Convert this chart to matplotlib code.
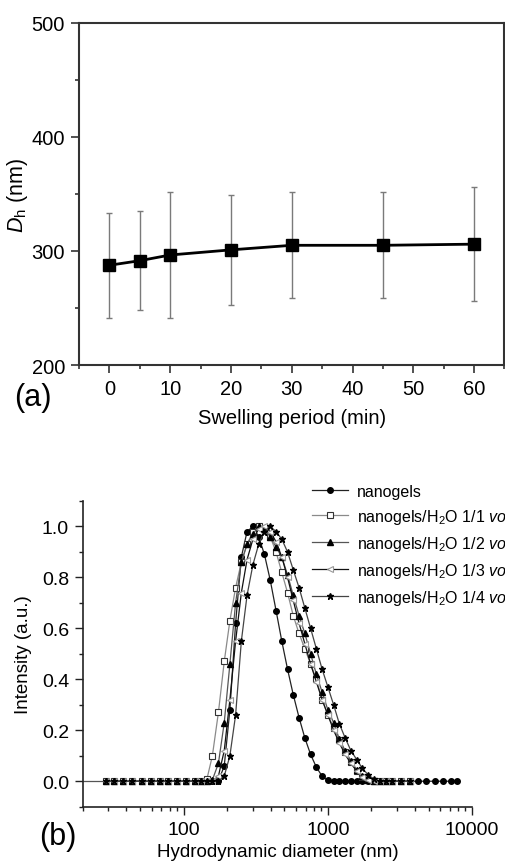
import numpy as np
import matplotlib
matplotlib.use('Agg')
import matplotlib.pyplot as plt
from matplotlib.ticker import MultipleLocator, LogLocator, NullFormatter, FixedLocator

plt.rcParams['font.family'] = ['Liberation Sans', 'DejaVu Sans']
plt.rcParams['mathtext.fontset'] = 'custom'
plt.rcParams['mathtext.rm'] = 'Liberation Sans'
plt.rcParams['mathtext.it'] = 'Liberation Sans:italic'

# (a) swelling kinetics
swell_t = [0, 5, 10, 20, 30, 45, 60]
swell_dh = [287.5, 291.5, 296.5, 301, 305, 305, 306]
err_hi = [333, 335, 352, 349, 352, 352, 356]
err_lo = [241, 248.5, 241, 252.5, 259, 258.5, 256]

# (b) DLS size distributions
x_low = [29, 33, 38, 44, 51, 59, 68, 78, 90, 104, 120]
x_main = [132, 145, 158, 174, 191, 209, 229, 251, 275, 302, 331, 363, 398, 437,
          479, 525, 575, 631, 692, 759, 832, 912, 1000, 1096, 1202, 1318, 1445,
          1585, 1738, 1905, 2089, 2291, 2512]
x_high = [2800, 3200, 3700]
x_high_long = [2800, 3200, 3700, 4200, 4800, 5500, 6300, 7200, 7900]

y_gel = [0, 0, 0, 0, 0.06, 0.28, 0.62, 0.88, 0.98, 1.0, 0.96, 0.89, 0.79, 0.67,
         0.55, 0.44, 0.34, 0.25, 0.17, 0.105, 0.055, 0.02, 0.003, 0, 0, 0, 0,
         0, 0, 0, 0, 0, 0]
y_11 = [0, 0.01, 0.10, 0.27, 0.47, 0.63, 0.76, 0.86, 0.93, 0.98, 1.0, 0.99, 0.96,
        0.90, 0.82, 0.74, 0.65, 0.58, 0.52, 0.46, 0.40, 0.32, 0.26, 0.21, 0.16,
        0.115, 0.075, 0.04, 0.015, 0.003, 0, 0, 0]
y_12 = [0, 0, 0.005, 0.07, 0.23, 0.46, 0.70, 0.86, 0.93, 0.97, 1.0, 0.99, 0.96,
        0.92, 0.88, 0.81, 0.73, 0.65, 0.58, 0.50, 0.42, 0.35, 0.28, 0.23, 0.165,
        0.12, 0.08, 0.045, 0.02, 0.005, 0, 0, 0]
y_13 = [0, 0, 0, 0.02, 0.12, 0.32, 0.55, 0.74, 0.87, 0.95, 0.99, 1.0, 0.98,
        0.94, 0.88, 0.80, 0.71, 0.62, 0.54, 0.46, 0.39, 0.32, 0.26, 0.20, 0.15,
        0.105, 0.07, 0.04, 0.018, 0.005, 0, 0, 0]
y_14 = [0, 0, 0, 0, 0.02, 0.10, 0.26, 0.55, 0.73, 0.85, 0.93, 0.98, 1.0, 0.98,
        0.95, 0.90, 0.83, 0.76, 0.68, 0.60, 0.52, 0.44, 0.37, 0.30, 0.225, 0.17,
        0.12, 0.085, 0.05, 0.025, 0.008, 0, 0]

labels = ['nanogels',
          r'nanogels/H$_2$O 1/1 $\it{vol.}$',
          r'nanogels/H$_2$O 1/2 $\it{vol.}$',
          r'nanogels/H$_2$O 1/3 $\it{vol.}$',
          r'nanogels/H$_2$O 1/4 $\it{vol.}$']

fig = plt.figure(figsize=(5.06, 8.62), dpi=100)

# ---- panel (a)
ax1 = fig.add_axes([79/506, 1-366/862, 425.5/506, 342/862])
yerr = [np.array(swell_dh) - np.array(err_lo), np.array(err_hi) - np.array(swell_dh)]
ax1.errorbar(swell_t, swell_dh, yerr=yerr, fmt='none', ecolor='#7a7a7a',
             elinewidth=1.0, capsize=2, capthick=1.0, zorder=1)
ax1.plot(swell_t, swell_dh, color='black', lw=2, marker='s', ms=8, zorder=3)
ax1.set_xlim(-5, 65)
ax1.set_ylim(200, 500)
ax1.xaxis.set_major_locator(MultipleLocator(10))
ax1.xaxis.set_minor_locator(MultipleLocator(5))
ax1.yaxis.set_major_locator(MultipleLocator(100))
ax1.yaxis.set_minor_locator(MultipleLocator(50))
ax1.tick_params(which='both', direction='out', top=False, right=False,
                labelsize=14.5, color='#333333', width=1.2)
ax1.tick_params(which='major', length=6, pad=4)
ax1.tick_params(which='minor', length=3)
for s in ax1.spines.values():
    s.set_linewidth(1.5)
    s.set_color('#333333')
ax1.set_xlabel('Swelling period (min)', fontsize=14.5, labelpad=7)
ax1.set_ylabel(r'$D_\mathrm{h}$ (nm)', fontsize=15.5, labelpad=1)
fig.text(14/506, 1-398/862, '(a)', fontsize=22, va='center', ha='left')

# ---- panel (b)
ax2 = fig.add_axes([83/506, 1-807.7/862, 389/506, 305.7/862])
ax2.hlines(0, 20, x_low[0], color='#555555', lw=0.9, zorder=0)
ax2.plot(x_low[5:] + x_main + x_high_long, [0]*6 + y_gel + [0]*9, color='#222222',
         lw=0.9, marker='o', ms=4, mfc='black', mec='black', label=labels[0])
ax2.plot(x_low + x_main + x_high, [0]*11 + y_11 + [0]*3, color='#8a8a8a',
         lw=0.9, marker='s', ms=4.5, mfc='white', mec='#333333', mew=0.8, label=labels[1])
ax2.plot(x_low + x_main + x_high, [0]*11 + y_12 + [0]*3, color='#555555',
         lw=0.9, marker='^', ms=4.5, mfc='black', mec='black', label=labels[2])
ax2.plot(x_low + x_main + x_high, [0]*11 + y_13 + [0]*3, color='#111111',
         lw=0.9, marker='<', ms=5, mfc='white', mec='#999999', mew=0.8, label=labels[3])
ax2.plot(x_low + x_main + x_high, [0]*11 + y_14 + [0]*3, color='#444444',
         lw=0.9, marker='*', ms=5, mfc='black', mec='black', label=labels[4])
ax2.set_xscale('log')
ax2.set_xlim(20, 10000)
ax2.set_ylim(-0.1, 1.1)
ax2.xaxis.set_major_locator(FixedLocator([100, 1000, 10000]))
ax2.xaxis.set_minor_locator(LogLocator(base=10, subs=np.arange(2, 10)))
ax2.xaxis.set_minor_formatter(NullFormatter())
ax2.set_xticklabels(['100', '1000', '10000'])
ax2.yaxis.set_major_locator(FixedLocator([0, 0.2, 0.4, 0.6, 0.8, 1.0]))
ax2.yaxis.set_minor_locator(MultipleLocator(0.1))
ax2.set_yticklabels(['0.0', '0.2', '0.4', '0.6', '0.8', '1.0'])
ax2.spines['top'].set_visible(False)
ax2.spines['right'].set_visible(False)
for s in ['left', 'bottom']:
    ax2.spines[s].set_linewidth(1.2)
    ax2.spines[s].set_color('#222222')
ax2.tick_params(which='both', direction='out', labelsize=14, color='#222222', width=1.0)
ax2.tick_params(which='major', length=6, pad=4)
ax2.tick_params(which='minor', length=3)
ax2.set_xlabel('Hydrodynamic diameter (nm)', fontsize=13.5, labelpad=4)
ax2.set_ylabel('Intensity (a.u.)', fontsize=13.5, labelpad=7)
fig.legend(loc='upper left', bbox_to_anchor=(312/506, 1-485/862), frameon=False,
           fontsize=11.5, handlelength=2.25, handletextpad=0.55, labelspacing=0.5,
           borderpad=0, borderaxespad=0)
fig.text(39/506, 1-837/862, '(b)', fontsize=22, va='center', ha='left')

fig.savefig('out.png', dpi=100)
